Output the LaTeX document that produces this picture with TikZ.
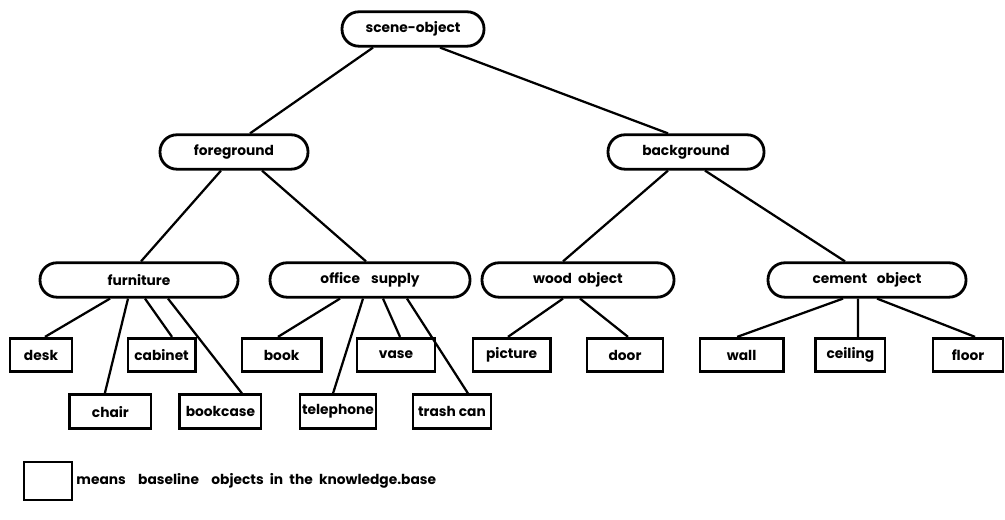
\documentclass[tikz,border=0pt]{standalone}
\usepackage{fontspec}
\setmainfont{Poppins}
\usepackage{tikz}

\begin{document}
\begin{tikzpicture}[x=1cm,y=1cm,
  class/.style={draw,line width=2pt,rounded corners=12pt,minimum height=0.86cm,
    inner sep=1pt,font=\fontsize{9.8}{11}\selectfont\bfseries},
  leaf/.style={draw,line width=1.9pt,minimum height=0.84cm,inner sep=1pt,
    font=\fontsize{9.8}{11}\selectfont\bfseries},
  link/.style={line width=1.6pt}]
  \useasboundingbox (0,0) rectangle (25.125,13);

  % root and first level
  \node[class,minimum width=3.55cm] (scene) at (10.325,12.275) {scene-object};
  \node[class,minimum width=3.7cm] (fore) at (5.85,9.2) {foreground};
  \node[class,minimum width=3.9cm] (back) at (17.15,9.2) {background};

  % second level
  \node[class,minimum width=4.95cm] (furn) at (3.475,6.0) {furniture};
  \node[class,minimum width=5.0cm] (office) at (9.25,6.0) {office\hspace{0.8em}supply};
  \node[class,minimum width=4.8cm] (wood) at (14.45,6.0) {wood\hspace{0.45em}object};
  \node[class,minimum width=4.95cm] (cement) at (21.675,6.0) {cement\hspace{0.7em}object};

  % baseline objects, upper row
  \node[leaf,minimum width=1.55cm] (desk) at (1.025,4.125) {desk};
  \node[leaf,minimum width=1.68cm] (cabinet) at (4.04,4.125) {cabinet};
  \node[leaf,minimum width=1.98cm] (book) at (7.04,4.125) {book};
  \node[leaf,minimum width=1.95cm] (vase) at (9.9,4.125) {vase};
  \node[leaf,minimum width=1.93cm] (picture) at (12.79,4.125) {picture};
  \node[leaf,minimum width=1.9cm] (door) at (15.625,4.125) {door};
  \node[leaf,minimum width=2.08cm] (wall) at (18.54,4.125) {wall};
  \node[leaf,minimum width=1.73cm] (ceiling) at (21.26,4.125) {ceiling};
  \node[leaf,minimum width=1.75cm] (floor) at (24.2,4.125) {floor};

  % baseline objects, lower row
  \node[leaf,minimum width=2.03cm] (chair) at (2.76,2.71) {chair};
  \node[leaf,minimum width=2.03cm] (bookcase) at (5.51,2.71) {bookcase};
  \node[leaf,minimum width=1.9cm] (phone) at (8.45,2.71) {telephone};
  \node[leaf,minimum width=1.95cm] (trash) at (11.3,2.71) {trash can};

  % links
  \draw[link] ([xshift=-1.0cm]scene.south) -- ([xshift=0.4cm]fore.north);
  \draw[link] ([xshift=0.675cm]scene.south) -- ([xshift=-0.45cm]back.north);
  \draw[link] ([xshift=-0.325cm]fore.south) -- ([xshift=0.05cm]furn.north);
  \draw[link] ([xshift=0.7cm]fore.south) -- ([xshift=-0.1cm]office.north);
  \draw[link] ([xshift=-0.45cm]back.south) -- ([xshift=-0.375cm]wood.north);
  \draw[link] ([xshift=0.475cm]back.south) -- ([xshift=-0.55cm]cement.north);

  \draw[link] ([xshift=-0.725cm]furn.south) -- ([xshift=0.1cm]desk.north);
  \draw[link] ([xshift=-0.275cm]furn.south) -- ([xshift=-0.14cm]chair.north);
  \draw[link] ([xshift=0.15cm]furn.south) -- ([xshift=0.26cm]cabinet.north);
  \draw[link] ([xshift=0.725cm]furn.south) -- ([xshift=0.54cm]bookcase.north);

  \draw[link] ([xshift=-0.75cm]office.south) -- ([xshift=-0.09cm]book.north);
  \draw[link] ([xshift=-0.175cm]office.south) -- ([xshift=-0.125cm]phone.north);
  \draw[link] ([xshift=0.325cm]office.south) -- ([xshift=0.1cm]vase.north);
  \draw[link] ([xshift=0.925cm]office.south) -- ([xshift=0.4cm]trash.north);

  \draw[link] ([xshift=-0.375cm]wood.south) -- ([xshift=-0.09cm]picture.north);
  \draw[link] ([xshift=0.05cm]wood.south) -- ([xshift=0.075cm]door.north);

  \draw[link] ([xshift=-0.6cm]cement.south) -- ([xshift=-0.11cm]wall.north);
  \draw[link] ([xshift=-0.225cm]cement.south) -- ([xshift=0.19cm]ceiling.north);
  \draw[link] ([xshift=0.25cm]cement.south) -- ([xshift=0.175cm]floor.north);

  % legend
  \node[leaf,minimum width=1.2cm,minimum height=0.95cm] (key) at (1.2,0.975) {};
  \node[anchor=west,inner sep=2pt,font=\fontsize{9.8}{11}\selectfont\bfseries] (keytext)
    at (key.east) {means\hspace{0.9em}baseline\hspace{0.9em}objects\hspace{0.45em}in\hspace{0.45em}the\hspace{0.45em}knowledge.base};
\end{tikzpicture}
\end{document}
